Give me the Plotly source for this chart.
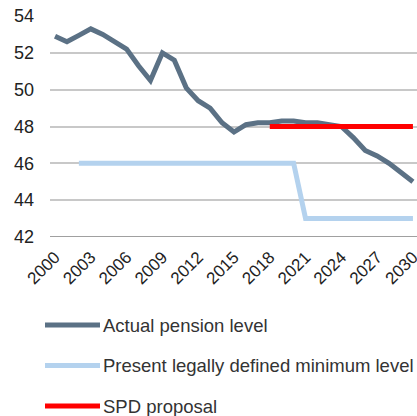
import plotly.graph_objects as go

# pension level data (% of average income)
years = list(range(2000, 2031))
actual = [52.9, 52.6, 52.95, 53.3, 53.0, 52.6, 52.2, 51.3, 50.5, 52.0,
          51.6, 50.1, 49.4, 49.0, 48.2, 47.7, 48.1, 48.2, 48.2, 48.3,
          48.3, 48.2, 48.2, 48.1, 48.0, 47.4, 46.7, 46.4, 46.0, 45.5, 45.0]
min_years = list(range(2002, 2031))
min_level = [46] * 19 + [43] * 10
spd_years = list(range(2018, 2031))
spd = [48] * 13

names = ['Actual pension level', 'Present legally defined minimum level', 'SPD proposal']
colors = ['#5b7185', '#b4d2ee', '#ff0000']

W, H = 417, 416
L, T, B = 50, 16, 416 - 237
ph = H - T - B
pw = W - L

def px_x(v):
    return (v - L) / pw

def px_y(v):
    return (H - B - v) / ph

fig = go.Figure()
fig.add_trace(go.Scatter(x=years, y=actual, mode='lines', name=names[0],
                         line=dict(color=colors[0], width=5)))
fig.add_trace(go.Scatter(x=min_years, y=min_level, mode='lines', name=names[1],
                         line=dict(color=colors[1], width=5)))
fig.add_trace(go.Scatter(x=spd_years, y=spd, mode='lines', name=names[2],
                         line=dict(color=colors[2], width=5)))

# hand-made legend below the plot
for i, (n, c) in enumerate(zip(names, colors)):
    yy = 325 + i * 40.5
    fig.add_shape(type='line', xref='paper', yref='paper',
                  x0=px_x(45), x1=px_x(100), y0=px_y(yy), y1=px_y(yy),
                  line=dict(color=c, width=5))
    fig.add_annotation(xref='paper', yref='paper', x=px_x(101), y=px_y(yy),
                       text=n, showarrow=False, xanchor='left', yanchor='middle',
                       font=dict(size=18.5, color='#333333'))

fig.update_layout(
    width=W, height=H,
    margin=dict(l=L, r=0, t=T, b=B, autoexpand=False),
    paper_bgcolor='white', plot_bgcolor='white',
    showlegend=False,
    font=dict(family='Liberation Sans, Arial', size=18, color='#222222'),
)
fig.update_xaxes(range=[1999.58, 2030.34], tickvals=list(range(2000, 2031, 3)),
                 tickangle=-45, showgrid=False, zeroline=False, showline=False,
                 ticks='', ticklabelstandoff=6, automargin=False,
                 ticklabeloverflow='allow', tickfont=dict(size=17))
fig.update_yaxes(range=[42, 54], dtick=2, showgrid=True, gridcolor='#c8c8c8',
                 gridwidth=1.5, zeroline=False, showline=False, ticks='',
                 ticklabelstandoff=15, automargin=False,
                 ticklabeloverflow='allow')
# darker base line at 42
fig.add_shape(type='line', xref='paper', yref='y', x0=0, x1=1, y0=42, y1=42,
              line=dict(color='#808080', width=1.5), layer='below')

# drop the browser's default body margin so the figure sits at the corner
fig.write_html("out.html", config={'displayModeBar': False},
               post_script="document.body.style.margin='0';")
